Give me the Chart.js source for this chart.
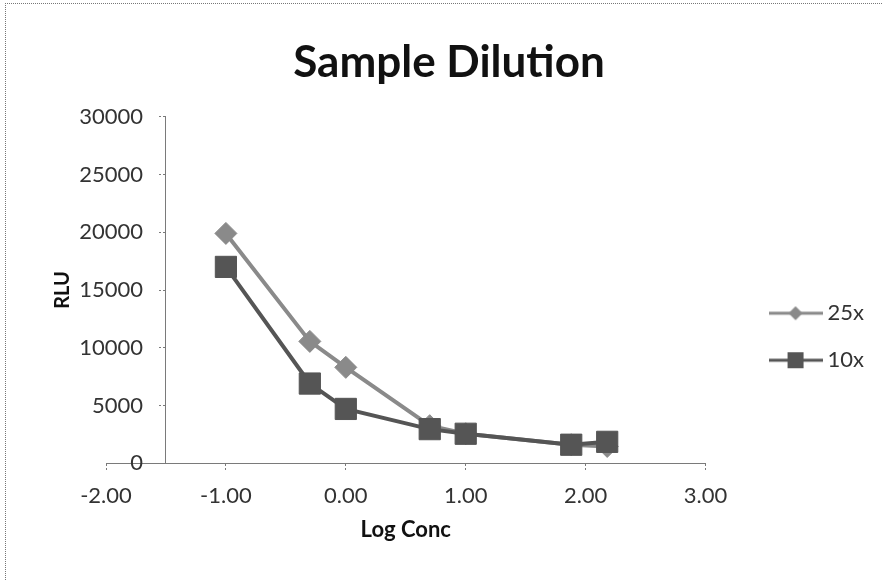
<!DOCTYPE html>
<html>
<head>
<meta charset="utf-8">
<script src="https://cdn.jsdelivr.net/npm/chart.js@4.4.0/dist/chart.umd.min.js"></script>
<style>
  html, body { margin: 0; padding: 0; background: #fff; }
  #wrap { position: relative; width: 883px; height: 581px; overflow: hidden; }
  #frame { position: absolute; left: 5px; top: 3px; width: 900px; height: 600px;
           border-top: 1px dotted #777; border-left: 1px dotted #777; }
  canvas { position: absolute; left: 0; top: 0; }
</style>
</head>
<body>
<div id="wrap">
  <div id="frame"></div>
  <canvas id="dilution-chart" width="883" height="581"></canvas>
</div>
<script>
// values
const logConc = [-1.00, -0.30, 0.00, 0.70, 1.00, 1.88, 2.18];
const rlu25x = [19900, 10550, 8300, 3250, 2550, 1600, 1450];
const rlu10x = [17000, 6900, 4700, 2950, 2550, 1600, 1850];
const seriesNames = ['25x', '10x'];
const xTicks = [-2, -1, 0, 1, 2, 3];
const yTicks = [0, 5000, 10000, 15000, 20000, 25000, 30000];

const color25 = '#8a8a8a';
const color10 = '#555555';
const textColor = '#333333';
const axisColor = '#7a7a7a';
const tickFont = {family: 'Lato', size: 22};

// legend icon: short line with the marker in the middle, like Excel
function legendIcon(color, style, size) {
    const c = document.createElement('canvas');
    c.width = 54;
    c.height = 24;
    const g = c.getContext('2d');
    g.strokeStyle = color;
    g.lineWidth = 3;
    g.beginPath();
    g.moveTo(0, 12);
    g.lineTo(54, 12);
    g.stroke();
    g.fillStyle = color;
    g.beginPath();
    if (style === 'rectRot') {
        g.moveTo(27, 12 - size);
        g.lineTo(27 + size, 12);
        g.lineTo(27, 12 + size);
        g.lineTo(27 - size, 12);
        g.closePath();
    } else {
        g.rect(27 - size, 12 - size, size * 2, size * 2);
    }
    g.fill();
    return c;
}

const icons = [legendIcon(color25, 'rectRot', 7), legendIcon(color10, 'rect', 8)];

const toPoints = (ys) => logConc.map((x, i) => ({x: x, y: ys[i]}));
const setTicks = (list) => (s) => { s.ticks = list.map(v => ({value: v})); };

new Chart(document.getElementById('dilution-chart'), {
    type: 'line',
    data: {
        datasets: [{
            label: seriesNames[0],
            data: toPoints(rlu25x),
            borderColor: color25,
            backgroundColor: color25,
            borderWidth: 4,
            pointStyle: 'rectRot',
            pointRadius: 11,
            pointBorderWidth: 1,
            order: 1
        }, {
            label: seriesNames[1],
            data: toPoints(rlu10x),
            borderColor: color10,
            backgroundColor: color10,
            borderWidth: 4,
            pointStyle: 'rect',
            pointRadius: 15,
            pointBorderWidth: 1,
            order: 0
        }]
    },
    options: {
        responsive: false,
        devicePixelRatio: 1,
        animation: false,
        layout: {padding: {left: 24, right: 9, top: 0, bottom: 24}},
        plugins: {
            tooltip: {enabled: false},
            title: {
                display: true,
                text: 'Sample Dilution',
                color: '#111',
                font: {family: 'Lato', size: 44, weight: 'bold'},
                padding: {top: 36, bottom: 28}
            },
            legend: {
                position: 'right',
                maxWidth: 200,
                // empty title only pushes the entries down
                title: {display: true, text: '', padding: {top: 102, bottom: 0}},
                labels: {
                    usePointStyle: true,
                    pointStyleWidth: 42,
                    padding: 25,
                    color: textColor,
                    font: tickFont,
                    sort: (a, b) => a.datasetIndex - b.datasetIndex,
                    generateLabels: (chart) => {
                        const items = Chart.defaults.plugins.legend.labels.generateLabels(chart);
                        items.forEach(item => { item.pointStyle = icons[item.datasetIndex]; });
                        return items;
                    }
                }
            }
        },
        scales: {
            x: {
                type: 'linear',
                min: -2,
                max: 3,
                afterBuildTicks: setTicks(xTicks),
                ticks: {
                    color: textColor,
                    font: tickFont,
                    padding: 13,
                    callback: (v) => Number(v).toFixed(2)
                },
                grid: {display: true, drawOnChartArea: false, drawTicks: true, tickLength: 7,
                       tickColor: axisColor, tickBorderDash: [2, 2]},
                border: {display: true, color: axisColor, dash: [2, 2]},
                title: {
                    display: true,
                    text: 'Log Conc',
                    color: '#111',
                    font: {family: 'Lato', size: 22, weight: 'bold'},
                    padding: {top: -6, bottom: 14}
                }
            },
            // value axis crosses the x axis at -1.5
            y: {
                type: 'linear',
                position: {x: -1.5},
                min: 0,
                max: 30000,
                afterBuildTicks: setTicks(yTicks),
                ticks: {display: false},
                grid: {display: true, drawOnChartArea: false, drawTicks: true, tickLength: 7,
                       tickColor: axisColor, tickBorderDash: [2, 2]},
                border: {display: true, color: axisColor, dash: [2, 2]}
            },
            // same range, only carries the tick labels a bit left of the axis line
            yLabels: {
                type: 'linear',
                axis: 'y',
                position: {x: -1.692},
                min: 0,
                max: 30000,
                afterBuildTicks: setTicks(yTicks),
                ticks: {color: textColor, font: tickFont, callback: (v) => String(v)},
                grid: {display: false},
                border: {display: false}
            },
            // left gutter that carries the RLU axis title
            rluTitle: {
                type: 'linear',
                axis: 'y',
                position: 'left',
                ticks: {display: false},
                grid: {display: false},
                border: {display: false},
                title: {
                    display: true,
                    text: 'RLU',
                    color: '#111',
                    font: {family: 'Lato', size: 20, weight: 'bold'},
                    padding: {top: 27, bottom: 0}
                },
                afterFit: (s) => { s.width = 82; }
            },
            // gap between plot and legend
            legendGap: {
                type: 'linear',
                axis: 'y',
                position: 'right',
                ticks: {display: false},
                grid: {display: false},
                border: {display: false},
                afterFit: (s) => { s.width = 44; }
            }
        }
    }
});
</script>
</body>
</html>
